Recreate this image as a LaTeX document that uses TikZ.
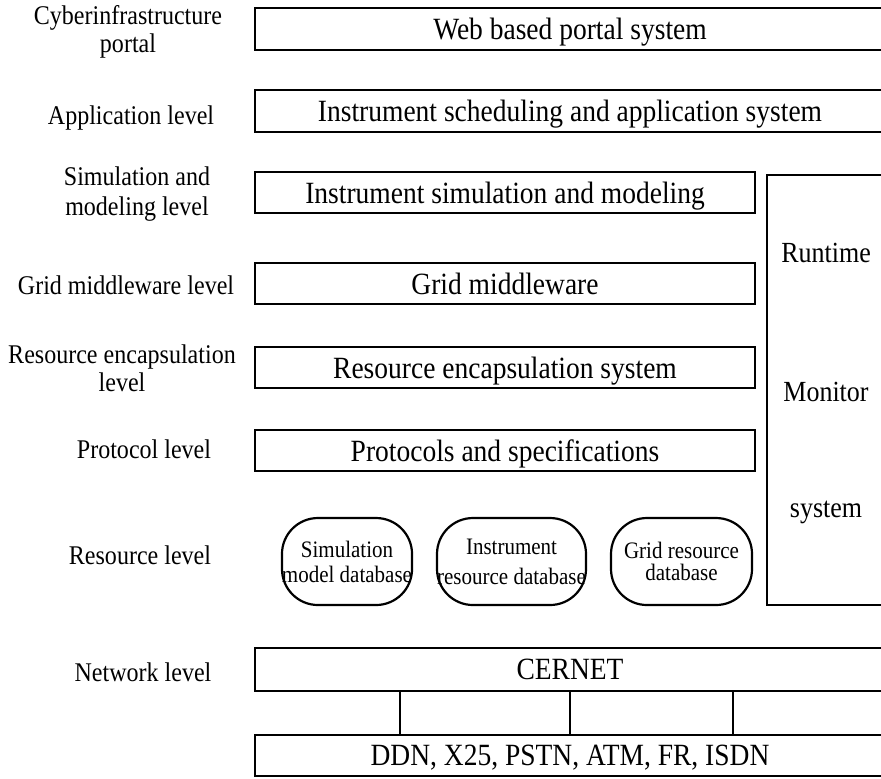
\documentclass[tikz,border=0pt]{standalone}
\usepackage{fontspec}
\setmainfont{Liberation Serif}[FakeStretch=0.89]
\begin{document}
\begin{tikzpicture}[x=0.5pt,y=-0.5pt,
  layer/.style={draw, line width=1.1pt, inner sep=0pt, align=center, text depth=0pt,
    font=\fontsize{15.45}{18}\selectfont},
  lvl/.style={inner sep=0pt, align=center, font=\fontsize{13.5}{14}\selectfont},
  db/.style={draw, line width=1.1pt, rounded corners=18pt, inner sep=0pt,
    align=center, minimum height=43.5pt, font=\fontsize{11.8}{12.5}\selectfont},
  montext/.style={inner sep=0pt, font=\fontsize{14.6}{16}\selectfont},
  link/.style={line width=1.1pt}]
\useasboundingbox (0,0) rectangle (881,778);
\clip (0,0) rectangle (881,778);

% level names on the left
\node[lvl] (l-portal) at (128,32)  {Cyberinfrastructure\\portal};
\node[lvl] (l-app)    at (131,118) {Application level};
\node[lvl,font=\fontsize{13.5}{15}\selectfont] (l-sim) at (137,194) {Simulation and\\modeling level};
\node[lvl] (l-grid)   at (126,285) {Grid middleware level};
\node[lvl] (l-enc)    at (122,368) {Resource encapsulation\\level};
\node[lvl] (l-proto)  at (144,449) {Protocol level};
\node[lvl] (l-res)    at (140,555) {Resource level};
\node[lvl] (l-net)    at (143,672) {Network level};

% full-width layers
\node[layer, minimum width=315pt, minimum height=21pt] (portal) at (570,29)
  {Web based portal system};
\node[layer, minimum width=315pt, minimum height=21pt] (app) at (570,111)
  {Instrument scheduling and application system};

% layers beside the monitor
\node[layer, minimum width=250pt, minimum height=20.5pt] (sim) at (505,192.5)
  {Instrument simulation and modeling};
\node[layer, minimum width=250pt, minimum height=20.5pt] (grid) at (505,283.5)
  {Grid middleware};
\node[layer, minimum width=250pt, minimum height=20.5pt] (enc) at (505,367.5)
  {Resource encapsulation system};
\node[layer, minimum width=250pt, minimum height=20.5pt] (proto) at (505,450.5)
  {Protocols and specifications};

% runtime monitor column
\node[draw, line width=1.1pt, inner sep=0pt, minimum width=59pt, minimum height=215pt]
  (monitor) at (826,390) {};
\node[montext] (mon-a) at (826,253) {Runtime};
\node[montext] (mon-b) at (826,392) {Monitor};
\node[montext] (mon-c) at (826,512) {system};

% resource databases
\node[db, minimum width=65pt] (db-sim) at (347,561.5)
  {Simulation\\model database};
\node[db, minimum width=74.5pt] (db-ins) at (511.5,561.5)
  {Instrument\\[2.5pt]resource database};
\node[db, minimum width=70.5pt] (db-grid) at (681.5,561.5)
  {Grid resource\\[-1.5pt]database};

% network level
\node[layer, minimum width=315pt, minimum height=21.5pt] (cernet) at (570,669.5)
  {CERNET};
\node[layer, minimum width=315pt, minimum height=20.5pt] (phys) at (570,755.5)
  {DDN, X25, PSTN, ATM, FR, ISDN};

\coordinate (t1) at (400,0);
\coordinate (t2) at (570,0);
\coordinate (t3) at (733,0);
\draw[link] (cernet.south -| t1) -- (phys.north -| t1);
\draw[link] (cernet.south -| t2) -- (phys.north -| t2);
\draw[link] (cernet.south -| t3) -- (phys.north -| t3);
\end{tikzpicture}
\end{document}
